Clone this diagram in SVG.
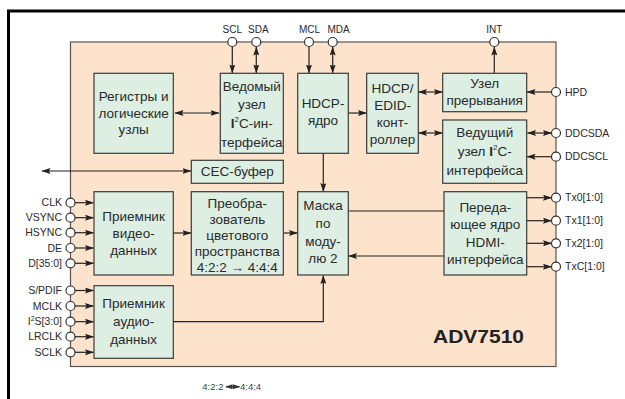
<svg xmlns="http://www.w3.org/2000/svg" width="625" height="399" viewBox="0 0 625 399">
<defs>
<marker id="ah" markerUnits="userSpaceOnUse" markerWidth="9" markerHeight="6" refX="8.5" refY="3" orient="auto-start-reverse">
<path d="M0,0 L9,3 L0,6 L1.5,3 z" fill="#222"/>
</marker>
<marker id="sh" markerUnits="userSpaceOnUse" markerWidth="7" markerHeight="5" refX="6.5" refY="2.5" orient="auto-start-reverse">
<path d="M0,0 L7,2.5 L0,5 z" fill="#333"/>
</marker>
</defs>
<style>
.chip{fill:#fde3cb;stroke:#555;stroke-width:1.2}
.box{fill:#ddefe3;stroke:#3a3a3a;stroke-width:1.2}
.t{font-family:"Liberation Sans",Arial,sans-serif;font-size:13.5px;fill:#2a2a2a;text-anchor:middle}
.p{font-family:"Liberation Sans",Arial,sans-serif;font-size:10.5px;fill:#2a2a2a}
.pt{font-size:10px}
.pe{text-anchor:end}
.pm{text-anchor:middle}
.pin{fill:#fff;stroke:#333;stroke-width:1.2}
.c{fill:none;stroke:#222;stroke-width:1.2}
.a{marker-end:url(#ah)}
.d{marker-start:url(#ah);marker-end:url(#ah)}
</style>
<rect width="625" height="399" fill="#fff"/>
<path d="M8.5,399 V11 H625" fill="none" stroke="#000" stroke-width="3"/>
<rect class="chip" x="70.5" y="42" width="485.5" height="324.5"/>
<text x="433" y="343" font-family="Liberation Sans,Arial,sans-serif" font-size="18" font-weight="bold" fill="#222" textLength="91" lengthAdjust="spacingAndGlyphs">ADV7510</text>

<g id="connectors">
<line class="c a" x1="232.3" y1="46.5" x2="232.3" y2="73"/>
<line class="c d" x1="256.3" y1="47" x2="256.3" y2="73"/>
<line class="c a" x1="309" y1="46.5" x2="309" y2="73"/>
<line class="c d" x1="332.7" y1="47" x2="332.7" y2="73"/>
<line class="c a" x1="494.3" y1="73" x2="494.3" y2="47"/>
<line class="c d" x1="175" y1="113" x2="219" y2="113"/>
<line class="c a" x1="348" y1="113" x2="366.5" y2="113"/>
<line class="c d" x1="418.5" y1="92" x2="442.5" y2="92"/>
<line class="c d" x1="418.5" y1="133" x2="442.5" y2="133"/>
<line class="c a" x1="551.5" y1="92" x2="527" y2="92"/>
<line class="c d" x1="527.5" y1="133" x2="551.5" y2="133"/>
<line class="c a" x1="551.5" y1="156.7" x2="527" y2="156.7"/>
<line class="c a" x1="527" y1="197.7" x2="551.5" y2="197.7"/>
<line class="c a" x1="527" y1="220.7" x2="551.5" y2="220.7"/>
<line class="c a" x1="527" y1="243.3" x2="551.5" y2="243.3"/>
<line class="c a" x1="527" y1="266.7" x2="551.5" y2="266.7"/>
<line class="c a" x1="323.3" y1="153.5" x2="323.3" y2="191.5"/>
<line class="c d" x1="42" y1="171" x2="191" y2="171"/>
<line class="c a" x1="173.5" y1="233" x2="191" y2="233"/>
<line class="c a" x1="283.5" y1="233" x2="297.5" y2="233"/>
<line class="c" x1="348.5" y1="211" x2="444" y2="211"/>
<line class="c a" x1="444" y1="256" x2="348.5" y2="256"/>
<path class="c a" d="M173.5,321.7 H323.3 V275.5"/>
<line class="c a" x1="75" y1="202.7" x2="93.5" y2="202.7"/>
<line class="c a" x1="75" y1="217.7" x2="93.5" y2="217.7"/>
<line class="c a" x1="75" y1="232.7" x2="93.5" y2="232.7"/>
<line class="c a" x1="75" y1="248" x2="93.5" y2="248"/>
<line class="c a" x1="75" y1="263.3" x2="93.5" y2="263.3"/>
<line class="c a" x1="75" y1="290.5" x2="93.5" y2="290.5"/>
<line class="c a" x1="75" y1="306" x2="93.5" y2="306"/>
<line class="c a" x1="75" y1="321.7" x2="93.5" y2="321.7"/>
<line class="c a" x1="75" y1="336.7" x2="93.5" y2="336.7"/>
<line class="c a" x1="75" y1="352.3" x2="93.5" y2="352.3"/>
</g>

<g id="pins">
<circle class="pin" cx="232.3" cy="42" r="4.5"/><text class="p pt pm" x="232.3" y="33">SCL</text>
<circle class="pin" cx="256.3" cy="42" r="4.5"/><text class="p pt pm" x="258.3" y="33">SDA</text>
<circle class="pin" cx="309" cy="42" r="4.5"/><text class="p pt pe" x="320" y="33">MCL</text>
<circle class="pin" cx="332.7" cy="42" r="4.5"/><text class="p pt" x="327.5" y="33">MDA</text>
<circle class="pin" cx="494.3" cy="42" r="4.5"/><text class="p pt pm" x="494.3" y="33">INT</text>
<circle class="pin" cx="556" cy="92" r="4.5"/><text class="p" x="565" y="95.5">HPD</text>
<circle class="pin" cx="556" cy="133" r="4.5"/><text class="p" x="565" y="136.5">DDCSDA</text>
<circle class="pin" cx="556" cy="156.7" r="4.5"/><text class="p" x="565" y="160.2">DDCSCL</text>
<circle class="pin" cx="556" cy="197.7" r="4.5"/><text class="p" x="565" y="201.2">Tx0[1:0]</text>
<circle class="pin" cx="556" cy="220.7" r="4.5"/><text class="p" x="565" y="224.2">Tx1[1:0]</text>
<circle class="pin" cx="556" cy="243.3" r="4.5"/><text class="p" x="565" y="246.8">Tx2[1:0]</text>
<circle class="pin" cx="556" cy="266.7" r="4.5"/><text class="p" x="565" y="270.2">TxC[1:0]</text>
<circle class="pin" cx="70.5" cy="202.7" r="4.5"/><text class="p pe" x="62" y="206.2">CLK</text>
<circle class="pin" cx="70.5" cy="217.7" r="4.5"/><text class="p pe" x="62" y="221.2">VSYNC</text>
<circle class="pin" cx="70.5" cy="232.7" r="4.5"/><text class="p pe" x="62" y="236.2">HSYNC</text>
<circle class="pin" cx="70.5" cy="248" r="4.5"/><text class="p pe" x="62" y="251.5">DE</text>
<circle class="pin" cx="70.5" cy="263.3" r="4.5"/><text class="p pe" x="62" y="266.8">D[35:0]</text>
<circle class="pin" cx="70.5" cy="290.5" r="4.5"/><text class="p pe" x="62" y="294">S/PDIF</text>
<circle class="pin" cx="70.5" cy="306" r="4.5"/><text class="p pe" x="62" y="309.5">MCLK</text>
<circle class="pin" cx="70.5" cy="321.7" r="4.5"/><text class="p pe" x="62" y="325.2">I<tspan font-size="7" dy="-4">2</tspan><tspan dy="4">S[3:0]</tspan></text>
<circle class="pin" cx="70.5" cy="336.7" r="4.5"/><text class="p pe" x="62" y="340.2">LRCLK</text>
<circle class="pin" cx="70.5" cy="352.3" r="4.5"/><text class="p pe" x="62" y="355.8">SCLK</text>
</g>

<g id="registers">
<rect class="box" x="94" y="73.3" width="79.3" height="80"/>
<text class="t" x="133.6" y="101">Регистры и</text>
<text class="t" x="133.6" y="117.5">логические</text>
<text class="t" x="133.6" y="134">узлы</text>
</g>
<g id="slave-i2c">
<rect class="box" x="220.3" y="73.3" width="63" height="80"/>
<text class="t" x="251.8" y="91">Ведомый</text>
<text class="t" x="251.8" y="109">узел</text>
<text class="t" x="251.8" y="128"><tspan font-weight="bold">I</tspan><tspan font-size="8" dy="-6">2</tspan><tspan dy="6">С-ин-</tspan></text>
<text class="t" x="251.8" y="147">терфейса</text>
</g>
<g id="hdcp-core">
<rect class="box" x="297.7" y="73.3" width="50.6" height="80"/>
<text class="t" x="323" y="108">HDCP-</text>
<text class="t" x="323" y="125">ядро</text>
</g>
<g id="hdcp-edid">
<rect class="box" x="366.7" y="73.3" width="51.6" height="80"/>
<text class="t" x="392.5" y="93">HDCP/</text>
<text class="t" x="392.5" y="110">EDID-</text>
<text class="t" x="392.5" y="127">конт-</text>
<text class="t" x="392.5" y="144">роллер</text>
</g>
<g id="interrupt">
<rect class="box" x="442.7" y="73.3" width="84" height="38.4"/>
<text class="t" x="484.7" y="88">Узел</text>
<text class="t" x="484.7" y="105">прерывания</text>
</g>
<g id="master-i2c">
<rect class="box" x="442.7" y="120" width="84" height="63.3"/>
<text class="t" x="484.7" y="137">Ведущий</text>
<text class="t" x="484.7" y="156">узел <tspan font-weight="bold">I</tspan><tspan font-size="8" dy="-6">2</tspan><tspan dy="6">С-</tspan></text>
<text class="t" x="484.7" y="175">интерфейса</text>
</g>
<g id="cec">
<rect class="box" x="191.3" y="160.3" width="92" height="23"/>
<text class="t" x="237.3" y="176">CEC-буфер</text>
</g>
<g id="video-rx">
<rect class="box" x="94" y="191.7" width="79.3" height="83.3"/>
<text class="t" x="133.6" y="221">Приемник</text>
<text class="t" x="133.6" y="238">видео-</text>
<text class="t" x="133.6" y="255">данных</text>
</g>
<g id="csc">
<rect class="box" x="191.3" y="191.7" width="92" height="83.3"/>
<text class="t" x="237.3" y="208">Преобра-</text>
<text class="t" x="237.3" y="224">зователь</text>
<text class="t" x="237.3" y="240">цветового</text>
<text class="t" x="237.3" y="256">пространства</text>
<text class="t" x="237.3" y="272">4:2:2 → 4:4:4</text>
</g>
<g id="xor-mask">
<rect class="box" x="297.7" y="191.7" width="50.6" height="83.3"/>
<text class="t" x="323" y="210">Маска</text>
<text class="t" x="323" y="228">по</text>
<text class="t" x="323" y="246">моду-</text>
<text class="t" x="323" y="263">лю 2</text>
</g>
<g id="hdmi-tx">
<rect class="box" x="444" y="191.7" width="82.7" height="83.3"/>
<text class="t" x="485.3" y="212">Переда-</text>
<text class="t" x="485.3" y="229">ющее ядро</text>
<text class="t" x="485.3" y="246.5">HDMI-</text>
<text class="t" x="485.3" y="264">интерфейса</text>
</g>
<g id="audio-rx">
<rect class="box" x="94" y="285.7" width="79.3" height="72.6"/>
<text class="t" x="133.6" y="308">Приемник</text>
<text class="t" x="133.6" y="326">аудио-</text>
<text class="t" x="133.6" y="344">данных</text>
</g>

<g id="note">
<text x="202.3" y="390" font-family="Liberation Sans,Arial,sans-serif" font-size="9.5" fill="#444">4:2:2</text>
<line x1="226" y1="386.7" x2="239.5" y2="386.7" stroke="#333" stroke-width="1.5" marker-start="url(#sh)" marker-end="url(#sh)"/>
<text x="240" y="390" font-family="Liberation Sans,Arial,sans-serif" font-size="9.5" fill="#444">4:4:4</text>
</g>
</svg>
